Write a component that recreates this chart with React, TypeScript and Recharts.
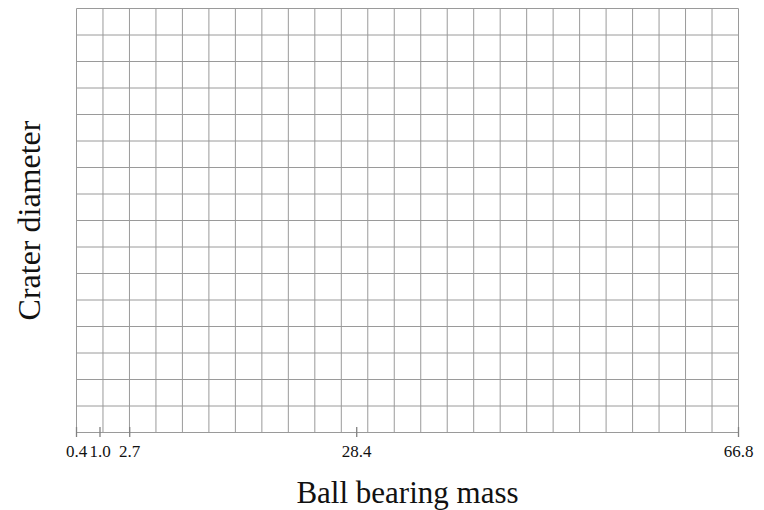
import React from 'react';
import { LineChart, Line, XAxis, YAxis, CartesianGrid } from 'recharts';

// tick values printed under the x axis
const massTicks = [0.4, 1.0, 2.7, 28.4, 66.8];
// where each printed tick sits along the axis (0 = left edge, 1 = right edge)
const massTickFractions = [0, 0.0355, 0.0804, 0.4233, 1];

// graph-paper cells
const gridCols = [0, 1, 2, 3, 4, 5, 6, 7, 8, 9, 10, 11, 12, 13, 14, 15, 16, 17, 18, 19, 20, 21, 22, 23, 24, 25];
const gridRows = [0, 1, 2, 3, 4, 5, 6, 7, 8, 9, 10, 11, 12, 13, 14, 15, 16];

// no crater values are plotted on the blank sheet
const rows = massTicks.map((m) => ({ mass: m }));

const serif = "'Liberation Serif', 'Times New Roman', serif";
const gridColor = '#9a9a9a';

// piecewise linear scale, d3-like enough for recharts
function piecewiseScale(stops: number[], fracs: number[]): any {
    let domain = [stops[0], stops[stops.length - 1]];
    let range = [0, 1];
    const scale: any = (v: number) => {
        let i = 0;
        while (i < stops.length - 2 && v > stops[i + 1]) i++;
        const t = (v - stops[i]) / (stops[i + 1] - stops[i]);
        const f = fracs[i] + t * (fracs[i + 1] - fracs[i]);
        return range[0] + f * (range[1] - range[0]);
    };
    scale.domain = (d?: number[]) => {
        if (d === undefined) return domain;
        domain = d;
        return scale;
    };
    scale.range = (r?: number[]) => {
        if (r === undefined) return range;
        range = r;
        return scale;
    };
    scale.copy = () => piecewiseScale(stops, fracs);
    scale.ticks = () => stops;
    return scale;
}

const massScale = piecewiseScale(massTicks, massTickFractions);

const MassTick = (props: any) => {
    const { x, y, payload } = props;
    return (
        <g>
            <line x1={x} x2={x} y1={y - 5.5} y2={y + 4.5} stroke="#808080" strokeWidth={1.3} />
            <text x={x} y={y + 24} textAnchor="middle" fontFamily={serif} fontSize={17} fill="#111">
                {Number(payload.value).toFixed(1)}
            </text>
        </g>
    );
};

const App: React.FC = () => {
    return (
        <div style={{ position: 'absolute', left: 0, top: 0, background: '#fff' }}>
            <LineChart width={764} height={510} data={rows} margin={{ top: 8.5, right: 25.5, bottom: 0, left: 0 }}>
                <CartesianGrid xAxisId="grid" yAxisId="grid" stroke={gridColor} strokeWidth={1} />
                <XAxis xAxisId="grid" dataKey="mass" type="number" domain={[0, 25]} ticks={gridCols} hide allowDataOverflow />
                <YAxis yAxisId="grid" dataKey="mass" type="number" domain={[0, 16]} ticks={gridRows} hide allowDataOverflow />
                <XAxis
                    dataKey="mass"
                    type="number"
                    domain={[massTicks[0], massTicks[massTicks.length - 1]]}
                    ticks={massTicks}
                    scale={massScale}
                    height={77.5}
                    axisLine={false}
                    tickLine={false}
                    tickSize={0}
                    tickMargin={0}
                    tick={<MassTick />}
                    interval={0}
                    label={{
                        value: 'Ball bearing mass',
                        position: 'insideBottom',
                        offset: 7,
                        style: { fontFamily: serif, fontSize: 31, fill: '#111' },
                    }}
                />
                <YAxis
                    type="number"
                    width={76.5}
                    axisLine={false}
                    tickLine={false}
                    tick={false}
                    label={{
                        value: 'Crater diameter',
                        angle: -90,
                        position: 'insideLeft',
                        offset: 28.3,
                        style: { fontFamily: serif, fontSize: 32, fill: '#111', textAnchor: 'middle' },
                    }}
                />
                <Line dataKey="crater" stroke="#000" dot={false} isAnimationActive={false} />
            </LineChart>
        </div>
    );
};

export default App;
